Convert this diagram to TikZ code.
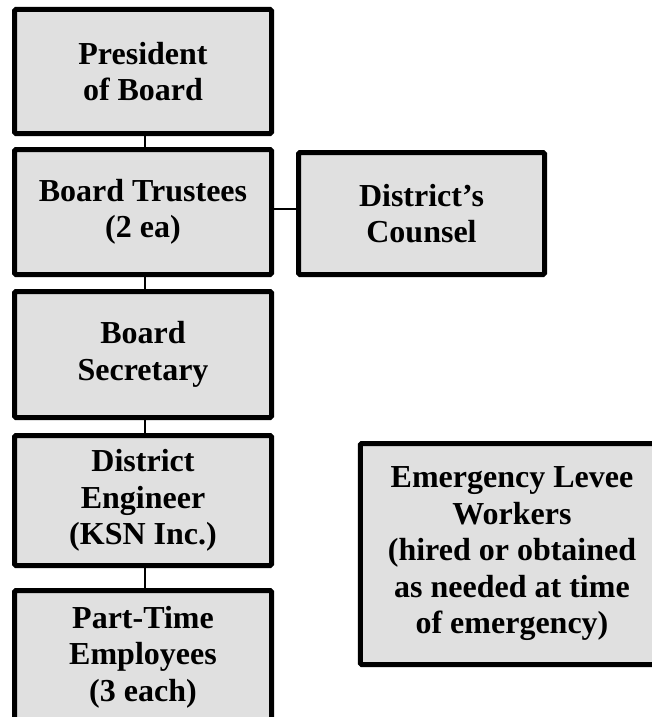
\documentclass[tikz,border=0pt]{standalone}
\usepackage{fontspec}
\setmainfont{Liberation Serif}
\definecolor{boxfill}{RGB}{224,224,224}
\tikzset{
  orgbox/.style={draw=black, line width=5pt, fill=boxfill, rounded corners=1.5pt,
    align=center, inner sep=0pt, font=\bfseries\fontsize{32}{36.5}\selectfont},
  link/.style={draw=black, line width=1.4pt}
}
\begin{document}
\begin{tikzpicture}[x=1pt,y=-1pt]
\useasboundingbox (0,0) rectangle (652,717);
\clip (0,0) rectangle (652,717);
\fill[white] (0,0) rectangle (652,717);
\node[orgbox, minimum width=257pt, minimum height=124pt] (pres) at (143,71.5) {President\\of Board};
\node[orgbox, minimum width=257pt, minimum height=125pt] (trust) at (143,212) {Board Trustees\\(2 ea)};
\node[orgbox, minimum width=246pt, minimum height=122pt] (counsel) at (421.5,213.5) {District’s\\Counsel};
\node[orgbox, minimum width=257pt, minimum height=126pt] (sec) at (143,354.5) {Board\\Secretary};
\node[orgbox, minimum width=257pt, minimum height=130pt] (eng) at (143,500.5) {District\\Engineer\\(KSN Inc.)};
\node[orgbox, minimum width=257pt, minimum height=133pt] (part) at (143,657) {Part-Time\\Employees\\(3 each)};
\node[orgbox, minimum width=303.5pt, minimum height=221pt] (emerg) at (512,554) {Emergency Levee\\Workers\\(hired or obtained\\as needed at time\\of emergency)};
\draw[link] ([xshift=2pt]pres.south) -- ([xshift=2pt]trust.north);
\draw[link] ([xshift=2pt]trust.south) -- ([xshift=2pt]sec.north);
\draw[link] ([xshift=2pt]sec.south) -- ([xshift=2pt]eng.north);
\draw[link] ([xshift=2pt]eng.south) -- ([xshift=2pt]part.north);
\draw[link] ([yshift=3pt]trust.east) -- ([yshift=3pt]trust.east -| counsel.west);
\end{tikzpicture}
\end{document}
